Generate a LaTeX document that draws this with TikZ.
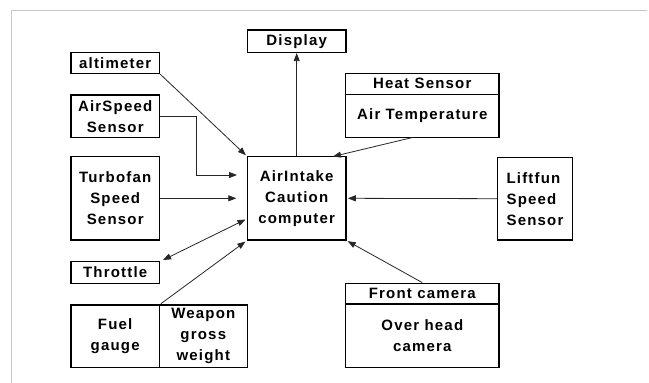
\documentclass[tikz,border=0pt]{standalone}
\usepackage{fontspec}
\setmainfont[LetterSpace=8]{Liberation Sans}
\usetikzlibrary{arrows.meta}
\begin{document}
\begin{tikzpicture}[x=1pt,y=-1pt,
  box/.style={draw=black,line width=1.5pt,inner sep=0pt,
    font=\bfseries\fontsize{15}{21}\selectfont,align=center},
  conn/.style={draw=black!85,line width=0.8pt},
  arr/.style={conn,-{Triangle[length=8pt,width=6pt]}},
  darr/.style={conn,{Triangle[length=8pt,width=6pt]}-{Triangle[length=8pt,width=6pt]}}]
\useasboundingbox (0,0) rectangle (649,383);
\draw[black!22,line width=1pt] (11.7,383) -- (11.7,10.7) -- (647,10.7);
% nodes
\node[box,minimum width=98.7pt,minimum height=22.3pt] (disp) at (296.7,41.2) {Display};
\node[box,minimum width=88.3pt,minimum height=21pt] (alt) at (115.2,62.8) {altimeter};
\node[box,minimum width=88.3pt,minimum height=42.3pt] (airspeed) at (115.2,116.2) {AirSpeed\\Sensor};
\node[box,minimum width=88.3pt,minimum height=83.3pt] (turbo) at (115.2,198.3) {Turbofan\\Speed\\Sensor};
\node[box,minimum width=88.3pt,minimum height=21.6pt] (throttle) at (115.2,272.5) {Throttle};
\node[box,minimum width=88.3pt,minimum height=62.3pt] (fuel) at (115.2,336.2) {Fuel\\gauge};
\node[box,minimum width=88pt,minimum height=62.3pt] (weapon) at (203.3,336.2) {Weapon\\gross\\weight};
\node[box,minimum width=98.7pt,minimum height=83.3pt] (comp) at (296.7,198.3) {AirIntake\\Caution\\computer};
\node[box,minimum width=153.3pt,minimum height=21pt] (heat) at (422.3,83.8) {Heat Sensor};
\node[box,minimum width=153.3pt,minimum height=43pt] (airtemp) at (422.3,115.8) {Air Temperature};
\node[box,minimum width=74.6pt,minimum height=82.7pt,align=left] (lift) at (535,198.7) {Liftfun\\Speed\\Sensor};
\node[box,minimum width=153.3pt,minimum height=20.7pt] (front) at (422.3,293.7) {Front camera};
\node[box,minimum width=153.3pt,minimum height=63.3pt] (overhead) at (422.3,335.7) {Over head\\camera};
% connector end points
\coordinate (asIn) at (237,175);
\coordinate (heatOut) at (413.3,137.3);
\coordinate (heatIn) at (333,156.5);
\coordinate (thIn) at (245.5,219.5);
\coordinate (thOut) at (163,260);
% connectors
\draw[arr] (comp.north) -- (disp.south);
\draw[arr,shorten >=1pt] (alt.south east) -- (comp.north west);
\draw[arr] (airspeed.east) -| (196.7,175) -- (asIn);
\draw[arr,shorten >=10.3pt] (turbo.east) -- (comp.west);
\draw[darr] (thOut) -- (thIn);
\draw[arr,shorten <=1pt,shorten >=1.5pt] (fuel.north east) -- (comp.south west);
\draw[arr] (heatOut) -- (heatIn);
\draw[arr,shorten >=1pt] (lift.west) -- (comp.east);
\draw[arr,shorten >=1pt] (front.north) -- (comp.south east);
\end{tikzpicture}
\end{document}
